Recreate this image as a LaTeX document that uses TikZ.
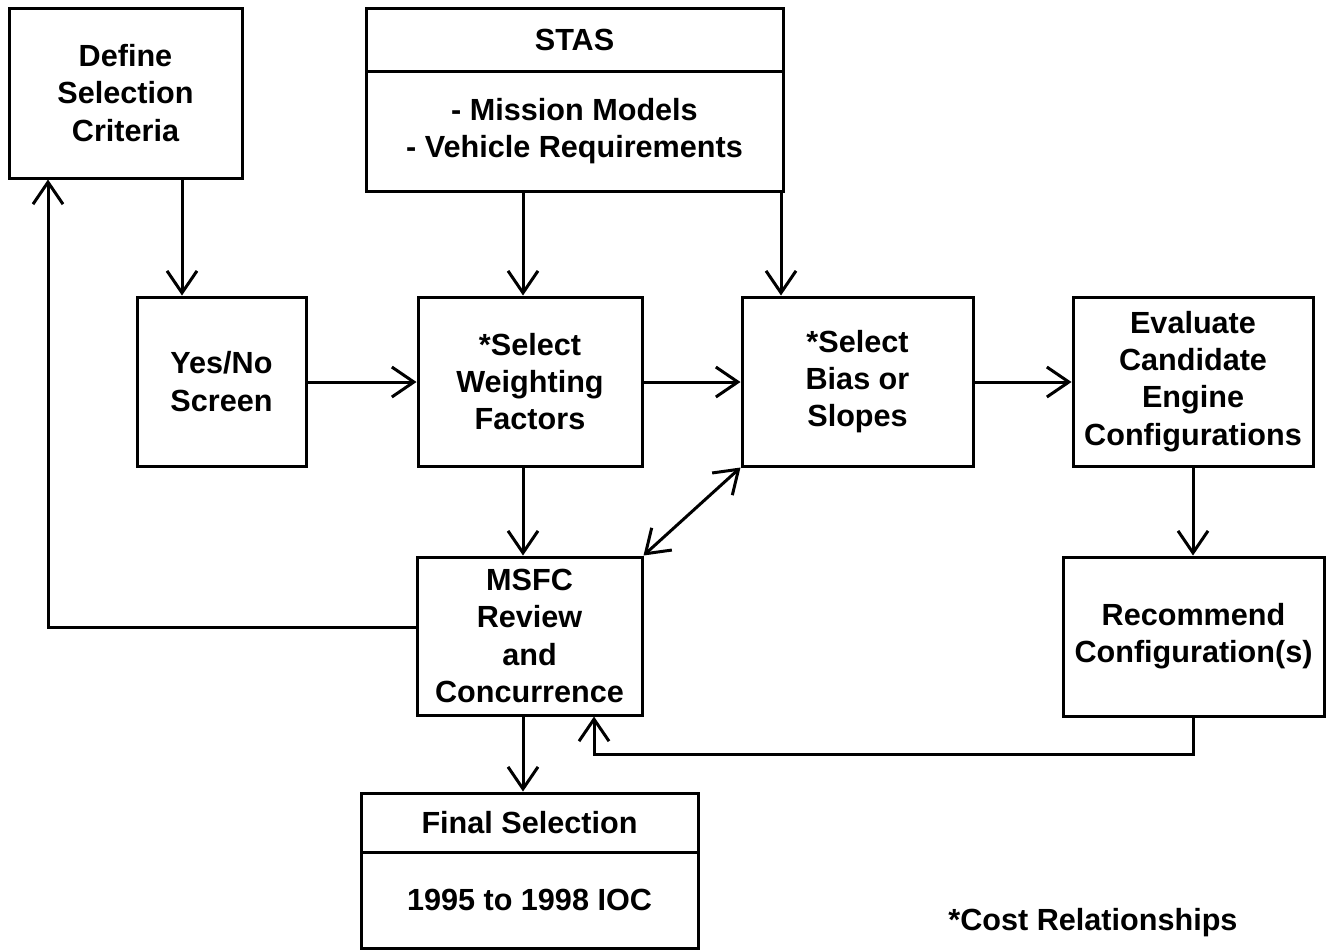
\documentclass[tikz,border=0pt]{standalone}
\usepackage{fontspec}
\setmainfont{Liberation Sans}
\usetikzlibrary{arrows.meta}
\begin{document}
\begin{tikzpicture}[x=0.5pt,y=-0.5pt,
  txt/.style={font=\bfseries\fontsize{15.3}{18.6}\selectfont,align=center,inner sep=0pt},
  box/.style={txt,draw,line width=1.5pt},
  arr/.style={line width=1.5pt,-{Straight Barb[length=11pt,width=15pt]}},
  darr/.style={line width=1.5pt,{Straight Barb[length=11pt,width=15pt]}-{Straight Barb[length=11pt,width=15pt]}}]
\useasboundingbox (0,0) rectangle (1326,949);
% boxes
\node[box,minimum width=116.5pt,minimum height=85pt] (define) at (125.5,93) {Define\\Selection\\Criteria};
\node[box,minimum width=208.5pt,minimum height=31.5pt] (stasT) at (574.5,39.5) {STAS};
\node[box,minimum width=208.5pt,minimum height=60pt] (stasB) at (574.5,131) {- Mission Models\\- Vehicle Requirements};
\node[box,minimum width=84.5pt,minimum height=84.5pt] (yesno) at (221.5,381.5) {Yes/No\\Screen};
\node[box,minimum width=112pt,minimum height=84.5pt] (weight) at (530,381.5) {*Select\\Weighting\\Factors};
\node[box,minimum width=115.5pt,minimum height=84.5pt] (bias) at (857.5,381.5) {*Select\\Bias or\\Slopes};
\node[box,minimum width=120pt,minimum height=84.5pt] (eval) at (1193,381.5) {Evaluate\\Candidate\\Engine\\Configurations};
\node[box,minimum width=112.5pt,minimum height=79pt] (msfc) at (529.5,636) {MSFC\\Review\\and\\Concurrence};
\node[box,minimum width=130.5pt,minimum height=79.5pt] (rec) at (1193.5,636.5) {Recommend\\Configuration(s)};
\node[box,minimum width=168.5pt,minimum height=29.5pt] (finalT) at (529.5,822.5) {Final Selection};
\node[box,minimum width=168.5pt,minimum height=48pt] (finalB) at (529.5,900) {1995 to 1998 IOC};
\node[txt] (note) at (1093,923) {*Cost Relationships};
% helper coordinates
\coordinate (x48) at (48,0);
\coordinate (x182) at (182,0);
\coordinate (x523) at (523,0);
\coordinate (x781) at (781,0);
\coordinate (x594) at (594,0);
\coordinate (x1193) at (1193,0);
\coordinate (y382) at (0,382);
\coordinate (y627) at (0,627);
\coordinate (y754) at (0,754);
% connectors
\draw[arr] (define.south -| x182) -- (yesno.north -| x182);
\draw[arr] (msfc.west |- y627) -- (x48 |- y627) -- (define.south -| x48);
\draw[arr] (stasB.south -| x523) -- (weight.north -| x523);
\draw[arr] (stasB.south -| x781) -- (bias.north -| x781);
\draw[arr] (yesno.east |- y382) -- (weight.west |- y382);
\draw[arr] (weight.east |- y382) -- (bias.west |- y382);
\draw[arr] (bias.east |- y382) -- (eval.west |- y382);
\draw[arr] (weight.south -| x523) -- (msfc.north -| x523);
\draw[darr] (bias.south west) -- (msfc.north east);
\draw[arr] (eval.south -| x1193) -- (rec.north -| x1193);
\draw[arr] (rec.south -| x1193) -- (x1193 |- y754) -- (x594 |- y754) -- (msfc.south -| x594);
\draw[arr] (msfc.south -| x523) -- (finalT.north -| x523);
\end{tikzpicture}
\end{document}
